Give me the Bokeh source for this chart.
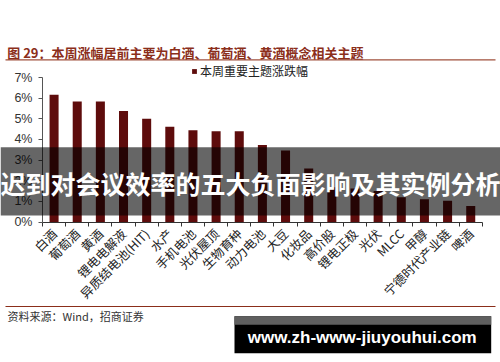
import math
from bokeh.plotting import figure
from bokeh.models import (ColumnDataSource, Range1d, FixedTicker, PrintfTickFormatter,
                          Label, BoxAnnotation, LinearAxis)
from bokeh.embed import file_html
from bokeh.resources import INLINE

categories = ["白酒", "葡萄酒", "黄酒", "锂电电解液", "异质结电池(HIT)", "水产", "手机电池",
              "光伏屋顶", "生物育种", "动力电池", "大豆", "化妆品", "高价股", "锂电正极",
              "光伏", "MLCC", "甲醇", "宁德时代产业链", "啤酒"]
values = [6.17, 5.84, 5.84, 5.38, 5.00, 4.62, 4.45, 4.40, 4.40, 3.73, 3.46, 2.59,
          1.68, 1.62, 1.50, 1.20, 1.10, 1.03, 0.77]
y_ticks = [0, 1, 2, 3, 4, 5, 6, 7]
series_name = "本周重要主题涨跌幅"
title_text = "图 29：本周涨幅居前主要为白酒、葡萄酒、黄酒概念相关主题"
source_text = "资料来源：Wind，招商证券"
banner_text = "迟到对会议效率的五大负面影响及其实例分析"
watermark_text = "www.zh-www-jiuyouhui.com"

CJK = "Noto Sans CJK SC"
W, H = 500, 362
n = len(categories)

# layout: where the plotting area sits on the canvas (pixels)
ax_left, ax_right = 42.0, 481.8
ax_bottom, ax_top = 221.5, 77.0
ymax = 7
sx = (ax_right - ax_left) / n
sy = (ax_bottom - ax_top) / ymax
x_range = Range1d(-ax_left / sx, (W - ax_left) / sx)
y_range = Range1d(-(H - ax_bottom) / sy, ax_bottom / sy)

centers = [i + 0.5 for i in range(n)]
src = ColumnDataSource(data=dict(x=centers, top=values, name=categories))

p = figure(width=W, height=H, x_range=x_range, y_range=y_range,
           output_backend="svg", toolbar_location=None, title=None,
           x_axis_location=None, y_axis_location=None,
           min_border=0, min_border_left=0, min_border_right=0,
           min_border_top=0, min_border_bottom=0)
p.outline_line_color = None
p.grid.visible = False
p.background_fill_color = "white"
p.border_fill_color = "white"

bars = p.vbar(x="x", top="top", width=0.39, source=src, fill_color="#5E0C0C",
              line_color=None, legend_label=series_name)

# x axis
xa = LinearAxis(fixed_location=0, bounds=(0, n))
xa.ticker = FixedTicker(ticks=centers, minor_ticks=list(range(n + 1)))
xa.major_label_overrides = {c: name for c, name in zip(centers, categories)}
xa.major_label_orientation = math.pi / 4
xa.major_tick_line_color = None
xa.major_tick_out = 4
xa.major_tick_in = 0
xa.minor_tick_out = 4
xa.minor_tick_in = 0
xa.minor_tick_line_color = "#333333"
xa.axis_line_color = "#333333"
xa.major_label_standoff = 5
xa.major_label_text_font = CJK
xa.major_label_text_font_size = "12.5px"
xa.major_label_text_color = "#222222"
p.add_layout(xa, "below")

# y axis
ya = LinearAxis(fixed_location=0, bounds=(0, ymax))
ya.ticker = FixedTicker(ticks=y_ticks)
ya.formatter = PrintfTickFormatter(format="%d%%")
ya.major_tick_out = 4
ya.major_tick_in = 0
ya.minor_tick_line_color = None
ya.axis_line_color = "#555555"
ya.major_tick_line_color = "#555555"
ya.major_label_standoff = 6
ya.major_label_text_font = "Liberation Sans"
ya.major_label_text_font_size = "12.5px"
ya.major_label_text_color = "#333333"
p.add_layout(ya, "left")

# legend
lg = p.legend[0]
lg.location = (191, H - 79)
lg.border_line_color = None
lg.background_fill_alpha = 0
lg.padding = 0
lg.margin = 0
lg.spacing = 0
lg.glyph_width = 6
lg.glyph_height = 6
lg.label_standoff = 3
lg.label_height = 6
lg.label_text_font = CJK
lg.label_text_font_size = "12px"
lg.label_text_color = "#222222"


def box(l, r, b, t, color, alpha=1.0):
    return BoxAnnotation(left=l, right=r, bottom=H - b, top=H - t,
                         left_units="screen", right_units="screen",
                         bottom_units="screen", top_units="screen",
                         fill_color=color, fill_alpha=alpha, line_color=None)


def label(x, y, text, **kw):
    return Label(x=x, y=H - y, x_units="screen", y_units="screen", text=text,
                 text_baseline="middle", **kw)


# title + rules + source
p.add_layout(label(6.7, 51.5, title_text, text_font=CJK, text_font_size="13px",
                   text_font_style="bold", text_color="#8B2E1A", text_align="left"))
p.add_layout(box(5, 495, 60.0, 58.8, "#A0503C"))
p.add_layout(box(5, 495, 306.6, 305.4, "#8B2E1A"))
p.add_layout(label(7, 315, source_text, text_font=CJK, text_font_size="11px",
                   text_color="#333333", text_align="left"))

# overlay banner
p.add_layout(box(0, W, 215.0, 146.7, "black", 0.6))
p.add_layout(label(250, 182.5, banner_text, text_font=CJK, text_font_size="25px",
                   text_font_style="bold", text_color="white", text_align="center"))

# watermark box
p.add_layout(box(234, 490.7, 352.7, 315.7, "black"))
p.add_layout(box(234, 490.7, 324.3, 315.7, "#5f5f5f"))
p.add_layout(label(361.7, 336.7, watermark_text, text_font="Liberation Sans",
                   text_font_size="17px", text_font_style="bold",
                   text_color="white", text_align="center"))

open("out.html", "w").write(file_html(p, INLINE))
